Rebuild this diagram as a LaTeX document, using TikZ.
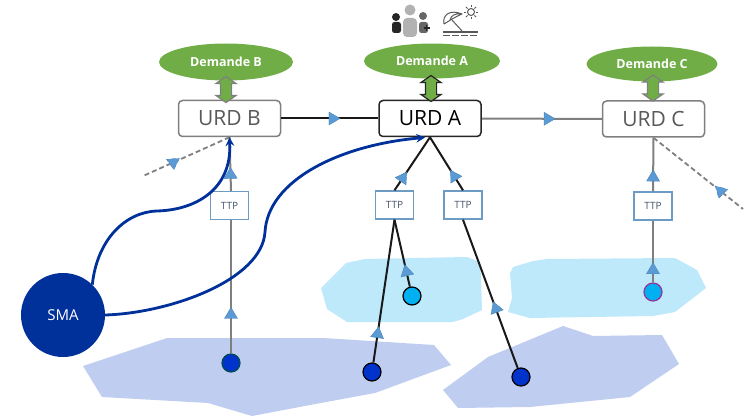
\documentclass[tikz,border=0pt]{standalone}
\usepackage{fontspec}
\setmainfont{Open Sans}
\usetikzlibrary{shapes.geometric,shapes.arrows}
\definecolor{smablue}{HTML}{00309A}
\definecolor{trifill}{HTML}{5B9BD5}
\definecolor{boxblue}{HTML}{6C9BC4}
\definecolor{ttptext}{HTML}{44546A}
\definecolor{lightzone}{HTML}{BDE9FB}
\definecolor{darkzone}{HTML}{BFCDF0}
\definecolor{demgreen}{HTML}{70AD47}
\definecolor{wiregray}{HTML}{7F7F7F}
\definecolor{sitedeep}{HTML}{0033CC}
\definecolor{sitesky}{HTML}{00B0F0}
\begin{document}
\begin{tikzpicture}[
      x=1pt, y=-1pt,
      >=stealth,
      urd/.style={draw=wiregray, line width=1.5pt, rounded corners=4pt, fill=white, minimum width=102pt, minimum height=36pt, inner sep=0pt, text=black!65, font=\fontsize{21}{24}\selectfont},
      demande/.style={ellipse, fill=demgreen, text=white, inner sep=0pt, font=\fontsize{12.5}{14}\selectfont\bfseries},
      updown/.style={double arrow, rotate=90, draw=wiregray, line width=1.2pt, fill=demgreen, minimum height=26pt, minimum width=19pt, inner sep=5pt, double arrow head extend=4.5pt, double arrow tip angle=110},
      ttp/.style={draw=boxblue, line width=1.4pt, fill=white, minimum width=38pt, minimum height=28pt, inner sep=0pt, text=ttptext, font=\fontsize{10}{12}\selectfont},
      sitedark/.style={circle, draw=black, line width=1.2pt, fill=sitedeep, minimum size=18pt, inner sep=0pt},
      sitelight/.style={circle, draw=black, line width=1.2pt, fill=sitesky, minimum size=18pt, inner sep=0pt},
      tri/.style={isosceles triangle, isosceles triangle stretches, shape border rotate=0, draw=trifill!85!black, line width=.4pt, fill=trifill, minimum width=13pt, minimum height=11pt, inner sep=0pt},
      onwire/.style={tri, sloped, allow upside down},
      blackwire/.style={draw=black!90, line width=2pt},
      graywire/.style={draw=wiregray, line width=2pt},
      dashwire/.style={draw=wiregray, line width=1.8pt, dashed, dash pattern=on 5pt off 3pt},
      smawire/.style={draw=smablue, line width=2.8pt},
      zonelight/.style={fill=lightzone},
      zonedark/.style={fill=darkzone}
  ]
  \useasboundingbox (0,0) rectangle (747,417);

  %%%%%%%%%%%%%%%%%%%%%%%%%%%%%%%%%%%%%%%%%%%%%%%%%%%%%%%%
  % Zones at the back
  %%%%%%%%%%%%%%%%%%%%%%%%%%%%%%%%%%%%%%%%%%%%%%%%%%%%%%%%
  \fill[zonedark] (83,366) -- (167,338) -- (323,338) -- (434,345) -- (451,365) -- (375,393)
    -- (310,405) -- (252,416) -- (208,403) -- (102,397) -- cycle;
  \fill[zonedark] (443,390) -- (488,357) -- (563,326) -- (593,336) -- (662,335) -- (679,364)
    -- (630,397) -- (530,407) -- (458,408) -- cycle;
  \fill[zonelight] (321,288) -- (346,263) -- (365,259) -- (467,257) -- (480,262) -- (481,277)
    -- (482,310) -- (463,319) -- (453,322) -- (347,322) -- (327,309) -- cycle;
  \fill[zonelight] (508,312) -- (512,298) -- (510,273) -- (513,267) -- (533,261) -- (547,259)
    -- (675,258) -- (697,270) -- (706,288) -- (675,312) -- (653,316) -- (530,318) -- cycle;

  %%%%%%%%%%%%%%%%%%%%%%%%%%%%%%%%%%%%%%%%%%%%%%%%%%%%%%%%
  % Demandes and URD boxes
  %%%%%%%%%%%%%%%%%%%%%%%%%%%%%%%%%%%%%%%%%%%%%%%%%%%%%%%%
  \node[demande, minimum width=134pt, minimum height=37pt] (DemB) at (226,62) {Demande B};
  \node[demande, minimum width=136pt, minimum height=35pt] (DemA) at (432,61) {Demande A};
  \node[demande, minimum width=131pt, minimum height=35pt] (DemC) at (652,64) {Demande C};

  \node[urd] (UrdB) at (229.5,118.5) {URD B};
  \node[urd, draw=black!85, text=black] (UrdA) at (430,118.5) {URD A};
  \node[urd] (UrdC) at (653.5,119) {URD C};

  \node[updown] (ArrB) at (226,89.5) {};
  \node[updown, draw=black!85] (ArrA) at (431,88.5) {};
  \node[updown] (ArrC) at (653,88) {};

  %%%%%%%%%%%%%%%%%%%%%%%%%%%%%%%%%%%%%%%%%%%%%%%%%%%%%%%%
  % TTP boxes, sites and SMA
  %%%%%%%%%%%%%%%%%%%%%%%%%%%%%%%%%%%%%%%%%%%%%%%%%%%%%%%%
  \node[ttp] (TtpB) at (229.5,205.5) {TTP};
  \node[ttp] (TtpAleft) at (394.5,205) {TTP};
  \node[ttp] (TtpAright) at (463,205) {TTP};
  \node[ttp] (TtpC) at (653,206) {TTP};

  \node[sitedark, draw=teal!60!black] (SiteB) at (231,363) {};
  \node[sitedark] (SiteAleft) at (372,372) {};
  \node[sitedark] (SiteAright) at (521,377) {};
  \node[sitelight] (SiteAlight) at (412,296) {};
  \node[sitelight, draw=violet!80] (SiteC) at (653,292) {};

  \node[circle, fill=smablue, text=white, minimum size=84pt, inner sep=0pt, font=\fontsize{15}{18}\selectfont] (Sma) at (63,315) {SMA};

  \coordinate (DashB) at (143,176);
  \coordinate (DashC) at (743,209);

  %%%%%%%%%%%%%%%%%%%%%%%%%%%%%%%%%%%%%%%%%%%%%%%%%%%%%%%%
  % Connectors
  %%%%%%%%%%%%%%%%%%%%%%%%%%%%%%%%%%%%%%%%%%%%%%%%%%%%%%%%
  \draw[blackwire] (UrdB) -- node[onwire, pos=.53] (TriBA) {} (UrdA);
  \draw[graywire] (UrdA) -- node[onwire, pos=.55] (TriAC) {} (UrdC);

  % branch under URD B
  \draw[graywire] (SiteB) -- node[onwire, pos=.29] (TriSB) {} (SiteB |- TtpB.south);
  \draw[graywire] (SiteB |- TtpB.north) -- node[onwire, pos=.3] (TriTB) {} (UrdB.south);
  \draw[dashwire] (UrdB.south) -- node[tri, pos=.65, rotate=-85] (TriDB) {} (DashB);

  % branches under URD A
  \draw[blackwire] (SiteAleft) -- node[onwire, pos=.2] (TriSAl) {} (TtpAleft.south);
  \draw[blackwire] (SiteAlight) -- node[onwire, pos=.22] (TriSAm) {} (TtpAleft.south);
  \draw[blackwire] (SiteAright) -- node[onwire, pos=.4] (TriSAr) {} (TtpAright.south);
  \draw[blackwire] (TtpAleft.north) -- node[onwire, pos=.23] (TriTAl) {} (UrdA.south);
  \draw[blackwire] (TtpAright.north) -- node[onwire, pos=.26] (TriTAr) {} (UrdA.south);

  % branch under URD C
  \draw[graywire] (SiteC) -- node[onwire, pos=.2] (TriSC) {} (TtpC.south);
  \draw[graywire] (TtpC.north) -- node[onwire, pos=.26] (TriTC) {} (UrdC.south);
  \draw[dashwire] (UrdC.south) -- node[tri, pos=.75, rotate=-105] (TriDC) {} (DashC);

  % SMA curves
  \draw[smawire, ->] (Sma.46) .. controls (97,240) and (125,212) .. (157,211)
    .. controls (195,210) and (232,190) .. (UrdB.south);
  \draw[smawire, ->] (Sma.east) .. controls (170,313) and (262,280) .. (265,232)
    .. controls (268,180) and (340,145) .. (425,137.5);

  %%%%%%%%%%%%%%%%%%%%%%%%%%%%%%%%%%%%%%%%%%%%%%%%%%%%%%%%
  % Icons above Demande A
  %%%%%%%%%%%%%%%%%%%%%%%%%%%%%%%%%%%%%%%%%%%%%%%%%%%%%%%%
  \fill[black!85] (396,17) circle (4);
  \fill[black!85, rounded corners=2.5pt] (392,33) rectangle (401,22);
  \fill[black!30] (410,10) circle (5.5);
  \fill[black!30, rounded corners=4pt] (403,37) rectangle (417,18);
  \fill[black!60] (423,16) circle (4);
  \fill[black!60, rounded corners=2.5pt] (419,33) rectangle (428,22);
  \draw[black!85, line width=1.2pt] (423.5,28) -- (430,28) (426.75,25) -- (426.75,31);

  \draw[black!65, line width=1pt, line join=round] (444,24) .. controls (442,15) and (450,9) .. (462,14)
    .. controls (457,16) and (452,19) .. (444,24) (450,20) .. controls (451,16) and (454,13) .. (462,14);
  \draw[black!65, line width=1pt] (452,20) -- (462,31);
  \draw[black!65, line width=1pt] (471,12) circle (3.5);
  \foreach \ang in {0,45,...,315} {
    \draw[black!65, line width=.8pt] (471,12) ++(\ang:4.8) -- ++(\ang:2.4);
  }
  \draw[black!65, line width=1.1pt] (443,32) -- (478,32);
  \draw[black!65, line width=1.1pt, dash pattern=on 7pt off 2pt] (443,35.5) -- (478,35.5);

\end{tikzpicture}
\end{document}
